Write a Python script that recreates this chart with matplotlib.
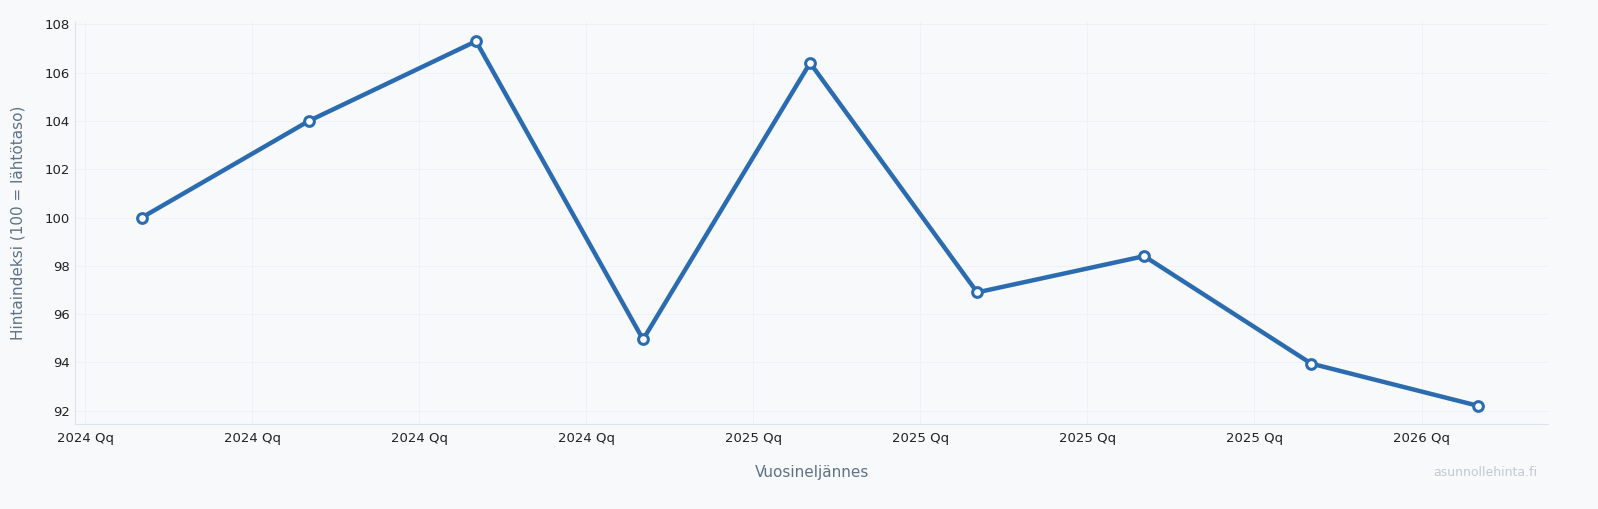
import numpy as np
import matplotlib.pyplot as plt

# data
tick_labels = ['2024 Qq', '2024 Qq', '2024 Qq', '2024 Qq', '2025 Qq',
               '2025 Qq', '2025 Qq', '2025 Qq', '2026 Qq']
index_values = [100.0, 104.0, 107.3, 94.95, 106.4, 96.9, 98.4, 93.95, 92.2]

x_ticks = np.arange(len(tick_labels))
x_pts = np.arange(len(index_values)) + 0.34

bg = '#f7f9fb'
fig = plt.figure(figsize=(15.98, 5.09), dpi=100, facecolor=bg)
ax = fig.add_axes([0.047, 0.167, 0.922, 0.79], facecolor=bg)

ax.plot(x_pts, index_values, '-', color='#2b6cb0', lw=3.2, marker='o',
        ms=7, mfc='white', mec='#2b6cb0', mew=2.2, zorder=3)

ax.set_xlim(-0.06, 8.76)
ax.set_ylim(91.45, 108.1)
ax.set_xticks(x_ticks)
ax.set_xticklabels(tick_labels, fontsize=9.5, color='#222222')
ax.set_yticks(np.arange(92, 109, 2))
ax.tick_params(axis='y', labelsize=9.5, colors='#222222', length=0)
ax.tick_params(axis='x', length=0, pad=6)
ax.grid(True, color='#eef1f5', lw=0.7)
for s in ['top', 'right']:
    ax.spines[s].set_visible(False)
for s in ['left', 'bottom']:
    ax.spines[s].set_color('#dbe3ec')

ax.set_xlabel('Vuosineljännes', fontsize=11, color='#5f7387', labelpad=14)
ax.set_ylabel('Hintaindeksi (100 = lähtötaso)', fontsize=11, color='#5f7387', labelpad=14)
fig.text(0.962, 0.065, 'asunnollehinta.fi', ha='right', fontsize=9, color='#c3cad3')

plt.savefig('out.png', facecolor=bg)
